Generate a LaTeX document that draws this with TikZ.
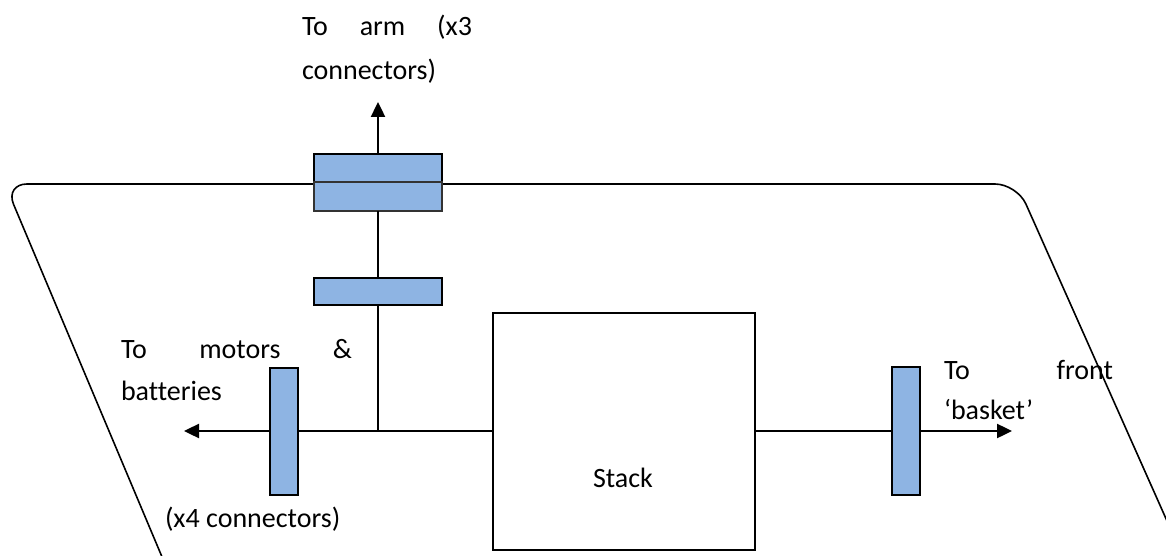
\documentclass[tikz,border=0pt]{standalone}
\usepackage{fontspec}
\setmainfont{Carlito}[Ligatures={TeX,NoCommon}]
\usetikzlibrary{arrows.meta}
\definecolor{connfill}{HTML}{8EB4E3}
\begin{document}
\begin{tikzpicture}[x=1pt,y=-1pt,
  every node/.style={inner sep=0pt, outer sep=0pt},
  txt/.style={anchor=base west, font=\fontsize{28pt}{34pt}\selectfont},
  conn/.style={draw=black, line width=2pt, fill=connfill},
  connthin/.style={draw=black!80, line width=1.5pt, fill=connfill},
  wire/.style={line width=1.4pt},
  outarrow/.style={line width=2.4pt, -{Triangle[length=15pt,width=14pt]}},
  chassis/.style={line width=1.6pt, rounded corners=22pt}]
\useasboundingbox (0,0) rectangle (1166,556);
\clip (0,0) rectangle (1166,556);

% chassis outline (runs off the lower and right edges)
\draw[chassis] (197,640) -- (5,184) -- (1017,184) -- (1220,640);

% connector blocks
\node[conn, minimum width=128pt, minimum height=28pt] (armtop) at (378,168) {};
\node[connthin, minimum width=128pt, minimum height=29pt] (armbot) at (378,196.5) {};
\node[conn, minimum width=128pt, minimum height=27pt] (armmid) at (378,291.5) {};
\node[conn, minimum width=28pt, minimum height=127pt] (motor) at (284,431) {};
\node[conn, minimum width=28pt, minimum height=128pt] (basket) at (906,431) {};

% stack
\node[draw, line width=1.8pt, minimum width=262pt, minimum height=237pt] (stack) at (624,431.5) {};
\node[anchor=base, font=\fontsize{28pt}{34pt}\selectfont] (stacklbl) at (623,487) {Stack};

% wiring
\coordinate (junction) at (378,431);
\coordinate (armend) at (378,102);
\coordinate (motorend) at (184,431);
\coordinate (basketend) at (1012,431);
\draw[wire] (motor.east) -- (motor.east -| stack.west);
\draw[wire] (stack.east |- basket.west) -- (basket.west);
\draw[wire] (armbot.south) -- (armmid.north);
\draw[wire] (armmid.south) -- (junction);
\draw[outarrow] (armtop.north) -- (armend);
\draw[outarrow] (motor.west) -- (motorend);
\draw[outarrow] (basket.east) -- (basketend);

% labels
\node[txt] (armA) at (302,36) {\makebox[170pt][l]{To\hfill arm\hfill (x3}};
\node[txt] (armB) at (302,80) {connectors)};
\node[txt] (motA) at (121,358) {\makebox[231pt][l]{To\hfill motors\hfill \&}};
\node[txt] (motB) at (121,400) {batteries};
\node[txt] (motC) at (165,527) {(x4 connectors)};
\node[txt] (basA) at (944,379) {\makebox[169pt][l]{To\hfill front}};
\node[txt] (basB) at (944,419) {‘basket’};
\end{tikzpicture}
\end{document}
